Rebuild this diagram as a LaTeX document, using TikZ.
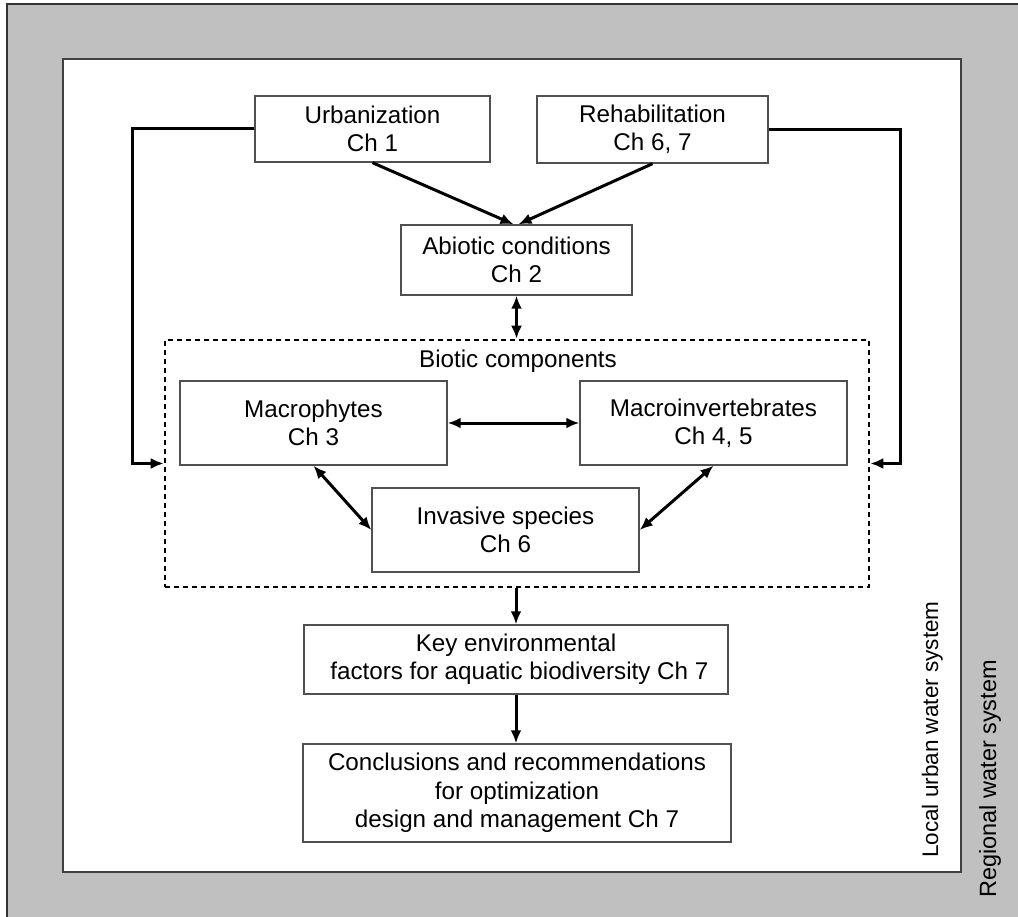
\documentclass[tikz,border=0pt]{standalone}
\usepackage{fontspec}
\setmainfont{Liberation Sans}
\usetikzlibrary{arrows.meta,calc}
\definecolor{bggray}{RGB}{192,192,192}
\definecolor{boxline}{RGB}{80,80,80}
\tikzset{
  box/.style={draw=boxline, line width=1.4pt, fill=white, inner sep=0pt, align=center,
              font=\fontsize{24.2}{28}\selectfont},
  conn/.style={line width=3pt, draw=black},
  arr/.style={conn, -{Latex[length=13pt,width=11pt]}},
  darr/.style={conn, {Latex[length=13pt,width=11pt]}-{Latex[length=13pt,width=11pt]}},
  biobox/.style={draw=black, line width=2.6pt, dash pattern=on 5pt off 4pt, inner sep=0pt},
  lbl/.style={font=\fontsize{23.5}{27.5}\selectfont, inner sep=0pt},
}
\begin{document}
\begin{tikzpicture}[x=1pt,y=-1pt]
\useasboundingbox (0,0) rectangle (1018,917);
% backgrounds
\filldraw[fill=bggray, draw=black!80, line width=1.5pt] (7,4) rectangle (1030,930);
\filldraw[fill=white, draw=black!75, line width=1.5pt] (63,59) rectangle (961,872);

% nodes
\node[box, minimum width=235pt, minimum height=66pt] (urb) at (372.5,129) {Urbanization\\Ch 1};
\node[box, minimum width=231pt, minimum height=67pt] (reh) at (652.5,129.5) {Rehabilitation\\Ch 6, 7};
\node[box, minimum width=231pt, minimum height=70pt] (abi) at (516.5,260) {Abiotic conditions\\Ch 2};
\node[biobox, minimum width=704pt, minimum height=247pt] (bio) at (517,463.5) {};
\node[lbl, anchor=base, font=\fontsize{24.2}{28}\selectfont] (biotxt) at (518,368) {Biotic components};
\node[box, minimum width=267pt, minimum height=84pt] (mac) at (313.5,423) {Macrophytes\\Ch 3};
\node[box, minimum width=267pt, minimum height=84pt] (inv) at (713.5,423) {Macroinvertebrates\\Ch 4, 5};
\node[box, minimum width=267pt, minimum height=84pt] (isp) at (505.5,530) {Invasive species\\Ch 6};
\node[box, minimum width=424pt, minimum height=69pt] (key) at (516,659.5) {Key environmental\\\ factors for aquatic biodiversity Ch 7};
\node[box, minimum width=428pt, minimum height=98pt, font=\fontsize{24.2}{28.5}\selectfont] (con) at (517,793) {Conclusions and recommendations\\for optimization\\design and management Ch 7};

\node[lbl, rotate=90, anchor=base west, font=\fontsize{22.5}{27}\selectfont] (loc) at (938,858) {Local urban water system};
\node[lbl, rotate=90, anchor=base west] (reg) at (996,898) {Regional water system};

% connectors
\draw[arr] (urb.west) -- ++(-122,0) |- (bio.west);
\draw[arr] (reh.east) -- ++(132,0) |- (bio.east);
\draw[arr] (urb.south) -- ($(abi.north)+(-3,0)$);
\draw[arr] (reh.south) -- ($(abi.north)+(2,0)$);
\draw[darr] (abi.south) -- (abi.south |- bio.north);
\draw[darr] (mac.east) -- (inv.west);
\draw[darr] (mac.south) -- (isp.west);
\draw[darr] (inv.south) -- (isp.east);
\draw[arr] (key.north |- bio.south) -- (key.north);
\draw[arr] (key.south) -- (key.south |- con.north);
\end{tikzpicture}
\end{document}
